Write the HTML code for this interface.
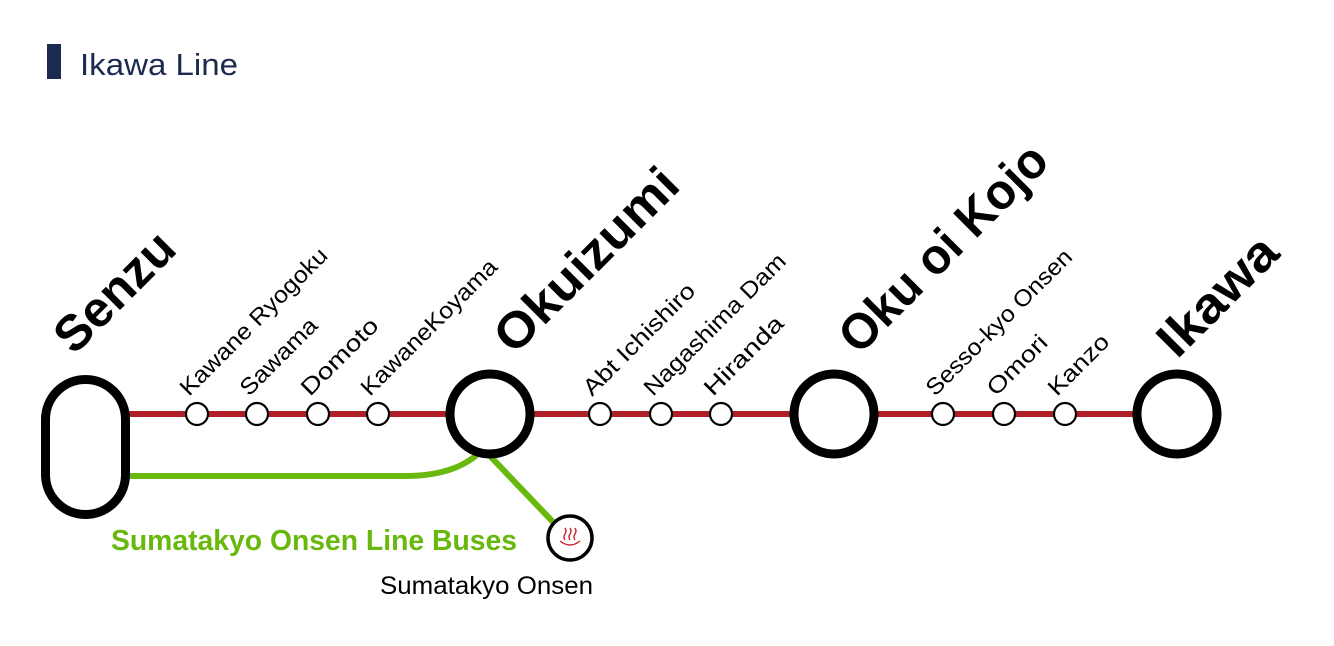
<!DOCTYPE html>
<html><head><meta charset="utf-8"><style>
html,body{margin:0;padding:0;background:#fff;}
svg{display:block;font-family:"Liberation Sans",sans-serif;}
</style></head><body>
<svg width="1334" height="646" viewBox="0 0 1334 646" xmlns="http://www.w3.org/2000/svg">
<rect x="47" y="44" width="14" height="35" fill="#1c2a50"/>
<text x="80" y="75" font-size="31" fill="#1c2a50" textLength="158" lengthAdjust="spacingAndGlyphs">Ikawa Line</text>
<line x1="128" y1="414" x2="1140" y2="414" stroke="#ae1f28" stroke-width="6"/>
<path d="M128 476 H405 Q455 476 480 452" fill="none" stroke="#68b80e" stroke-width="6"/>
<line x1="490" y1="456" x2="553" y2="522" stroke="#68b80e" stroke-width="6"/>
<rect x="45.5" y="379.5" width="80" height="135" rx="40" ry="40" fill="#fff" stroke="#000" stroke-width="9"/>
<g fill="#fff" stroke="#000" stroke-width="9">
<circle cx="490" cy="414" r="40"/><circle cx="834" cy="414" r="40"/><circle cx="1177" cy="414" r="40"/>
</g>
<g fill="#fff" stroke="#000" stroke-width="2.2">
<circle cx="197" cy="414" r="11"/><circle cx="257" cy="414" r="11"/><circle cx="318" cy="414" r="11"/><circle cx="378" cy="414" r="11"/>
<circle cx="600" cy="414" r="11"/><circle cx="661" cy="414" r="11"/><circle cx="721" cy="414" r="11"/>
<circle cx="943" cy="414" r="11"/><circle cx="1004" cy="414" r="11"/><circle cx="1065" cy="414" r="11"/>
</g>
<circle cx="570" cy="538" r="22" fill="#fff" stroke="#000" stroke-width="3.5"/>
<g fill="none" stroke="#c8202a" stroke-width="1.4">
<path d="M565 540 q-2 -3 0 -6 q2 -3 0 -6"/><path d="M570 540 q-2 -3 0 -6 q2 -3 0 -6"/><path d="M575 540 q-2 -3 0 -6 q2 -3 0 -6"/>
<path d="M560 541 q10 8 20 0"/>
</g>
<text x="111" y="550" font-size="29" font-weight="bold" fill="#68b80e" textLength="406" lengthAdjust="spacingAndGlyphs">Sumatakyo Onsen Line Buses</text>
<text x="380" y="594" font-size="25" fill="#000" textLength="213" lengthAdjust="spacingAndGlyphs">Sumatakyo Onsen</text>
<g font-size="23" fill="#000">
<text transform="translate(189,397) rotate(-45)" textLength="198" lengthAdjust="spacingAndGlyphs">Kawane Ryogoku</text>
<text transform="translate(249,397) rotate(-45)" textLength="99" lengthAdjust="spacingAndGlyphs">Sawama</text>
<text transform="translate(310,397) rotate(-45)" textLength="99" lengthAdjust="spacingAndGlyphs">Domoto</text>
<text transform="translate(370,397) rotate(-45)" textLength="182" lengthAdjust="spacingAndGlyphs">KawaneKoyama</text>
<text transform="translate(592,397) rotate(-45)" textLength="148" lengthAdjust="spacingAndGlyphs">Abt Ichishiro</text>
<text transform="translate(653,397) rotate(-45)" textLength="190" lengthAdjust="spacingAndGlyphs">Nagashima Dam</text>
<text transform="translate(713,397) rotate(-45)" textLength="102" lengthAdjust="spacingAndGlyphs">Hiranda</text>
<text transform="translate(935,397) rotate(-45)" textLength="196" lengthAdjust="spacingAndGlyphs">Sesso-kyo Onsen</text>
<text transform="translate(996,397) rotate(-45)" textLength="75" lengthAdjust="spacingAndGlyphs">Omori</text>
<text transform="translate(1057,397) rotate(-45)" textLength="76" lengthAdjust="spacingAndGlyphs">Kanzo</text>
</g>
<g font-size="50" font-weight="bold" fill="#000">
<text transform="translate(74,356) rotate(-45)" textLength="148" lengthAdjust="spacingAndGlyphs">Senzu</text>
<text transform="translate(514,356) rotate(-45)" textLength="238" lengthAdjust="spacingAndGlyphs">Okuizumi</text>
<text transform="translate(859,356) rotate(-45)" textLength="272" lengthAdjust="spacingAndGlyphs">Oku oi Kojo</text>
<text transform="translate(1177,360) rotate(-45)" textLength="148" lengthAdjust="spacingAndGlyphs">Ikawa</text>
</g>
</svg>
</body></html>
